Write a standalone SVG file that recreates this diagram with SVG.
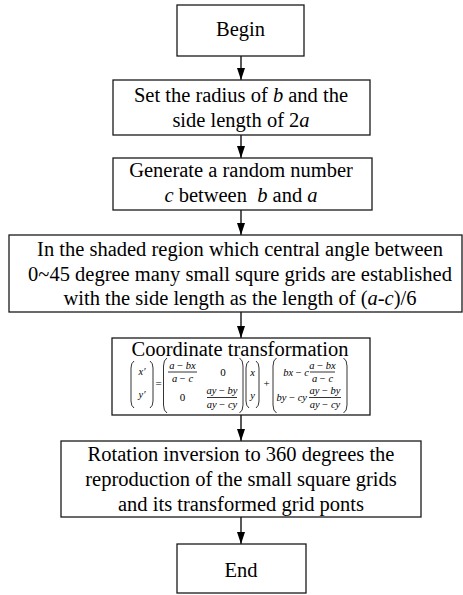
<svg xmlns="http://www.w3.org/2000/svg" width="463" height="595" viewBox="0 0 463 595" font-family="'Liberation Serif', 'Times New Roman', Times, 'DejaVu Serif', serif">
<style>
.box{fill:#fff;stroke:#1a1a1a;stroke-width:1.3}
.t{font-family:"Liberation Serif","Times New Roman",Times,"DejaVu Serif",serif;font-size:20.5px;fill:#000;text-anchor:middle}
.i{font-style:italic}
.m{font-family:"Liberation Serif","Times New Roman",Times,"DejaVu Serif",serif;font-size:10.5px;font-style:italic;fill:#000;text-anchor:middle}
.mr{font-family:"Liberation Serif","Times New Roman",Times,"DejaVu Serif",serif;font-size:11px;fill:#000;text-anchor:middle}
.n{font-style:normal}
.fl{stroke:#000;stroke-width:0.8;fill:none}
.pr{stroke:#000;stroke-width:0.8;fill:none}
.c{stroke:#000;stroke-width:1.3;fill:none}
</style>
<defs>
<marker id="arr" markerUnits="userSpaceOnUse" markerWidth="12" markerHeight="8" refX="12" refY="4" orient="auto" viewBox="0 0 12 8">
<path d="M0,0 L12,4 L0,8 z" fill="#000"/>
</marker>
</defs>

<g id="connectors">
<line class="c" x1="241" y1="56" x2="241" y2="80" marker-end="url(#arr)"/>
<line class="c" x1="241" y1="135" x2="241" y2="158" marker-end="url(#arr)"/>
<line class="c" x1="241" y1="210" x2="241" y2="235" marker-end="url(#arr)"/>
<line class="c" x1="241" y1="312" x2="241" y2="338" marker-end="url(#arr)"/>
<line class="c" x1="241" y1="415" x2="241" y2="441" marker-end="url(#arr)"/>
<line class="c" x1="241" y1="517" x2="241" y2="544" marker-end="url(#arr)"/>
</g>

<g id="begin">
<rect class="box" x="177" y="5" width="127" height="51"/>
<text class="t" x="240.5" y="36">Begin</text>
</g>

<g id="set-radius">
<rect class="box" x="113" y="80" width="257" height="55"/>
<text class="t" x="241" y="102">Set the radius of <tspan class="i">b</tspan> and the</text>
<text class="t" x="241" y="127">side length of 2<tspan class="i">a</tspan></text>
</g>

<g id="random">
<rect class="box" x="113" y="158" width="259" height="52"/>
<text class="t" x="241" y="177">Generate a random number</text>
<text class="t" x="241" y="202" xml:space="preserve"><tspan class="i">c</tspan> between  <tspan class="i">b</tspan> and <tspan class="i">a</tspan></text>
</g>

<g id="grids">
<rect class="box" x="9" y="235" width="453" height="77"/>
<text class="t" x="240" y="256">In the shaded region which central angle between</text>
<text class="t" x="240" y="281">0~45 degree many small squre grids are established</text>
<text class="t" x="240" y="305">with the side length as the length of (<tspan class="i">a</tspan>-<tspan class="i">c</tspan>)/6</text>
</g>

<g id="transform">
<rect class="box" x="112" y="338" width="258" height="77"/>
<text class="t" x="240" y="356">Coordinate transformation</text>
<path class="pr" d="M134,361 Q131,363 131,368 L131,401 Q131,406 134,408"/>
<path class="pr" d="M150,361 Q153,363 153,368 L153,401 Q153,406 150,408"/>
<text class="m" x="142" y="375">x′</text>
<text class="m" x="142" y="398">y′</text>
<text class="mr" x="158.5" y="387">=</text>
<path class="pr" d="M167,358 Q163.5,360 163.5,366 L163.5,405 Q163.5,411 167,413"/>
<path class="pr" d="M239.5,358 Q243,360 243,366 L243,405 Q243,411 239.5,413"/>
<text class="m" x="182.5" y="368.5">a <tspan class="n">−</tspan> bx</text>
<line class="fl" x1="168" y1="372" x2="197" y2="372"/>
<text class="m" x="182.5" y="382">a <tspan class="n">−</tspan> c</text>
<text class="mr" x="223" y="376">0</text>
<text class="mr" x="182.5" y="401">0</text>
<text class="m" x="222" y="394">ay <tspan class="n">−</tspan> by</text>
<line class="fl" x1="207" y1="397.5" x2="237" y2="397.5"/>
<text class="m" x="222" y="408">ay <tspan class="n">−</tspan> cy</text>
<path class="pr" d="M249,361 Q246,363 246,368 L246,401 Q246,406 249,408"/>
<path class="pr" d="M256,361 Q259,363 259,368 L259,401 Q259,406 256,408"/>
<text class="m" x="252.5" y="376">x</text>
<text class="m" x="252.5" y="399">y</text>
<text class="mr" x="266.5" y="387">+</text>
<path class="pr" d="M276.5,358 Q273,360 273,366 L273,405 Q273,411 276.5,413"/>
<path class="pr" d="M343.5,358 Q347,360 347,366 L347,405 Q347,411 343.5,413"/>
<text class="m" x="309" y="376" style="text-anchor:end">bx <tspan class="n">−</tspan> c</text>
<text class="m" x="322.5" y="368.5">a <tspan class="n">−</tspan> bx</text>
<line class="fl" x1="310" y1="372" x2="335" y2="372"/>
<text class="m" x="322.5" y="382">a <tspan class="n">−</tspan> c</text>
<text class="m" x="307" y="401" style="text-anchor:end">by <tspan class="n">−</tspan> cy</text>
<text class="m" x="325" y="394">ay <tspan class="n">−</tspan> by</text>
<line class="fl" x1="309" y1="397.5" x2="341" y2="397.5"/>
<text class="m" x="325" y="408">ay <tspan class="n">−</tspan> cy</text>
</g>

<g id="rotation">
<rect class="box" x="61" y="441" width="360" height="76"/>
<text class="t" x="241" y="461">Rotation inversion to 360 degrees the</text>
<text class="t" x="241" y="486">reproduction of the small square grids</text>
<text class="t" x="241" y="511">and its transformed grid ponts</text>
</g>

<g id="end">
<rect class="box" x="177" y="544" width="129" height="49"/>
<text class="t" x="241" y="577">End</text>
</g>
</svg>
